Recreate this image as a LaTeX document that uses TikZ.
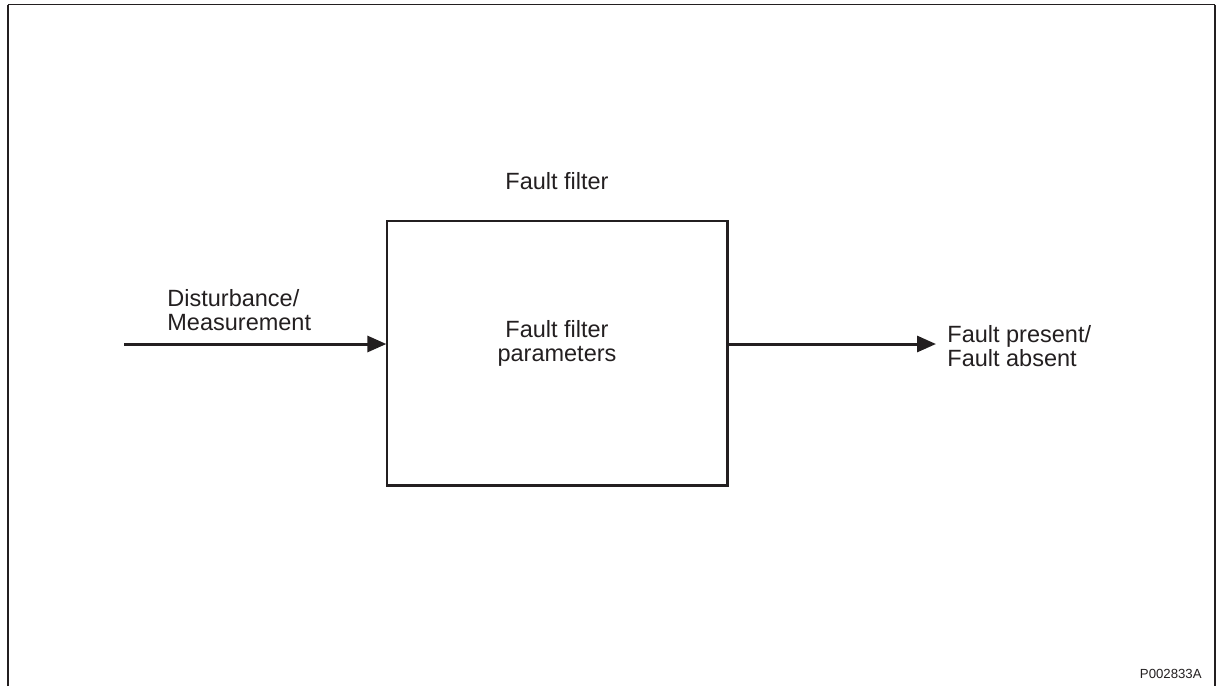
\documentclass[tikz,border=0pt]{standalone}
\usepackage{fontspec}
\setmainfont{Liberation Sans}
\usetikzlibrary{arrows.meta}
\definecolor{ink}{HTML}{231F20}
\begin{document}
\begin{tikzpicture}[x=0.5pt,y=-0.5pt,
  lbl/.style={inner sep=0pt,text=ink,font=\fontsize{11.75pt}{11.6pt}\selectfont},
  blockbox/.style={draw=ink,line width=0.65pt,minimum width=170pt,minimum height=132pt,inner sep=0pt},
  flow/.style={draw=ink,line width=1.5pt,-{Triangle[length=9.5pt,width=8pt]}},
  frameline/.style={draw=ink,line width=1pt}]
\useasboundingbox (0,0) rectangle (1218,686);
% outer frame (open at bottom)
\draw[frameline,line width=0.75pt] (7.5,4.5) -- (1215,4.5);
\draw[frameline] (7.5,686) -- (7.5,4.5);
\draw[frameline] (1215,4.5) -- (1215,686);
% block
\node[blockbox] (box) at (557,353) {};
\draw[ink,line width=1.5pt] (box.north east) -- (box.south east) -- (box.south west);
\node[lbl,align=center,anchor=base] (params) at (557,361) {Fault filter\\parameters};
\node[lbl,anchor=base] (title) at (557,189) {Fault filter};
% input
\coordinate (s) at (124,344);
\draw[flow] (s) -- (s -| box.west);
\node[lbl,align=left,anchor=base west] (din) at (167,330) {Disturbance/\\Measurement};
% output
\coordinate (e) at (936,344);
\draw[flow] (e -| box.east) -- (e);
\node[lbl,align=left,anchor=base west] (dout) at (947,366) {Fault present/\\Fault absent};
% reference
\node[inner sep=0pt,text=ink,font=\fontsize{6.6pt}{8pt}\selectfont,anchor=base east] (ref) at (1202,678) {P002833A};
\end{tikzpicture}
\end{document}
